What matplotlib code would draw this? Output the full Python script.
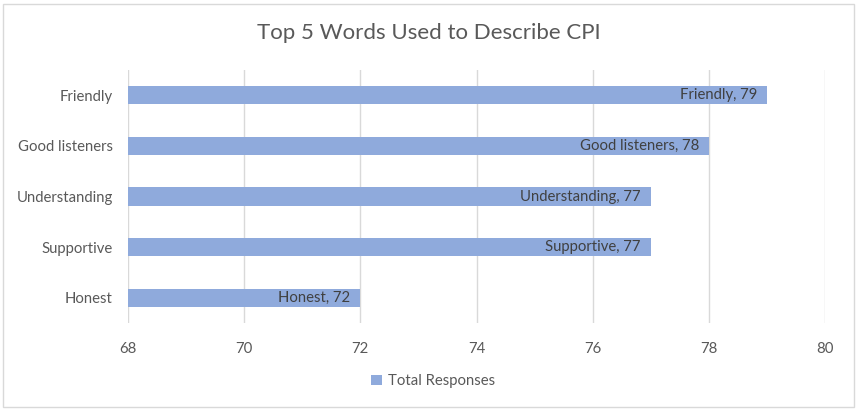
import matplotlib.pyplot as plt
from matplotlib.patches import Rectangle

# data
words = ["Friendly", "Good listeners", "Understanding", "Supportive", "Honest"]
responses = [79, 78, 77, 77, 72]
x_ticks = [68, 70, 72, 74, 76, 78, 80]

bar_color = "#8FAADC"
text_color = "#595959"

plt.rcParams['font.family'] = ['Lato', 'DejaVu Sans']

fig = plt.figure(figsize=(8.57, 4.11), dpi=100)
W, H = 857, 411
ax = fig.add_axes([128 / W, 1 - 323 / H, (825 - 128) / W, (323 - 70) / H])

y_pos = list(range(len(words)))[::-1]
ax.barh(y_pos, [r - 68 for r in responses], left=68, height=0.36,
        color=bar_color, zorder=3, label="Total Responses")

# data labels inside the bar ends
for y, w, r in zip(y_pos, words, responses):
    ax.text(r - 0.17, y, f"{w}, {r}", ha="right", va="center",
            fontsize=10.7, color="#404040", zorder=4)

ax.set_xlim(68, 80)
ax.set_ylim(-0.5, len(words) - 0.5)
ax.set_xticks(x_ticks)
ax.set_xticklabels([str(t) for t in x_ticks])
ax.set_yticks(y_pos)
ax.set_yticklabels(words)
ax.tick_params(axis="both", length=0, labelsize=10.7, colors=text_color)
ax.tick_params(axis="x", pad=14)
ax.tick_params(axis="y", pad=11)
ax.grid(axis="x", color="#D9D9D9", linewidth=1, zorder=0)
for s in ax.spines.values():
    s.set_visible(False)

fig.suptitle("Top 5 Words Used to Describe CPI", y=1 - 33 / H, va="center",
             fontsize=16, color=text_color)

leg = fig.legend(loc="center", bbox_to_anchor=(433 / W, 1 - 381 / H),
                 frameon=False, fontsize=10.7, handlelength=0.7, handleheight=0.7,
                 handletextpad=0.4)
for t in leg.get_texts():
    t.set_color(text_color)

# outer chart border
fig.patches.append(Rectangle((3 / W, 4 / H), (854 - 3) / W, (407 - 4) / H,
                             transform=fig.transFigure, fill=False,
                             edgecolor="#D9D9D9", linewidth=1))

fig.savefig("out.png", dpi=100)
